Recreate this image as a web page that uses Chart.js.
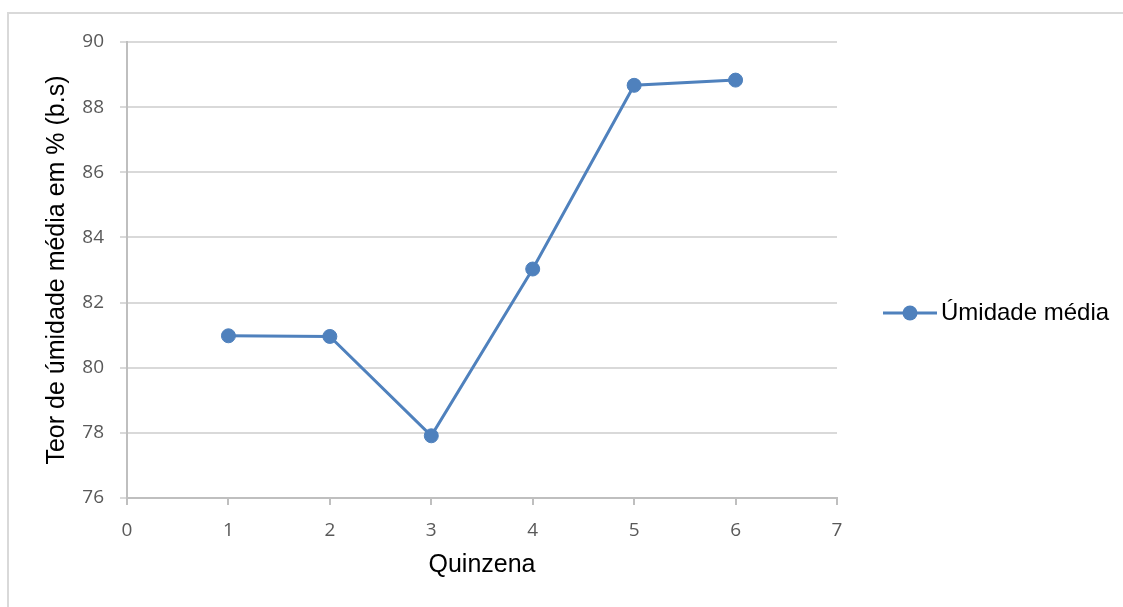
<!DOCTYPE html>
<html>
<head>
<meta charset="utf-8">
<script src="https://cdn.jsdelivr.net/npm/chart.js@4"></script>
<style>
  body { margin: 0; background: #fff; }
  #wrap { position: relative; width: 1123px; height: 607px; overflow: hidden; }
  #frame { position: absolute; left: 7px; top: 12px; width: 1200px; height: 700px; border: 2px solid #d9d9d9; }
  #chart { position: absolute; left: 0; top: 0; }
</style>
</head>
<body>
<div id="wrap">
  <div id="frame"></div>
  <canvas id="chart" width="1123" height="607"></canvas>
</div>
<script>
const quinzenas = [1, 2, 3, 4, 5, 6];
const umidade = [80.98, 80.96, 77.91, 83.03, 88.67, 88.83];
const serieLabel = 'Úmidade média';
const xTitle = 'Quinzena';
const yTitle = 'Teor de úmidade média em % (b.s)';

const blue = '#4f81bd';
const tickFont = { family: '"Open Sans", sans-serif', size: 19 };
const titleFont = { family: '"Liberation Sans", Arial, sans-serif', size: 25 };

// legend drawn to the right of the plot like the Excel original
const sideLegend = {
    id: 'sideLegend',
    afterDraw(chart) {
        const ctx = chart.ctx;
        const ds = chart.data.datasets[0];
        const y = (chart.chartArea.top + chart.chartArea.bottom) / 2 + 43;
        ctx.save();
        ctx.strokeStyle = ds.borderColor;
        ctx.lineWidth = 3;
        ctx.beginPath();
        ctx.moveTo(883, y);
        ctx.lineTo(937, y);
        ctx.stroke();
        ctx.fillStyle = ds.pointBackgroundColor;
        ctx.beginPath();
        ctx.arc(910, y, 7.5, 0, Math.PI * 2);
        ctx.fill();
        ctx.fillStyle = '#000';
        ctx.font = '24px "Liberation Sans", Arial, sans-serif';
        ctx.textBaseline = 'middle';
        ctx.fillText(ds.label, 941, y);
        ctx.restore();
    }
};

new Chart(document.getElementById('chart'), {
    type: 'line',
    data: {
        datasets: [{
            label: serieLabel,
            data: quinzenas.map((q, i) => ({ x: q, y: umidade[i] })),
            borderColor: blue,
            backgroundColor: blue,
            pointBackgroundColor: blue,
            pointBorderColor: blue,
            borderWidth: 3,
            pointRadius: 7,
            pointBorderWidth: 1,
            tension: 0
        }]
    },
    options: {
        responsive: false,
        animation: false,
        layout: { padding: { left: 0, top: 42, right: 286, bottom: 0 } },
        plugins: { legend: { display: false }, tooltip: { enabled: false } },
        scales: {
            x: {
                type: 'linear',
                min: 0,
                max: 7,
                ticks: { stepSize: 1, color: '#595959', font: tickFont, padding: 14 },
                grid: { drawOnChartArea: false, tickLength: 7, color: '#bfbfbf', lineWidth: 2 },
                border: { color: '#bfbfbf', width: 2 },
                title: { display: true, text: xTitle, color: '#000', font: titleFont, padding: { bottom: 27 } },
                afterFit: s => { s.height = 109; }
            },
            y: {
                min: 76,
                max: 90,
                ticks: { stepSize: 2, color: '#595959', font: tickFont, padding: 16 },
                grid: { color: '#d9d9d9', lineWidth: 2, tickLength: 7 },
                border: { color: '#bfbfbf', width: 2 },
                title: { display: true, text: yTitle, color: '#000', font: titleFont, padding: { top: 42 } },
                afterFit: s => { s.width = 127; }
            }
        }
    },
    plugins: [sideLegend]
});
</script>
</body>
</html>
